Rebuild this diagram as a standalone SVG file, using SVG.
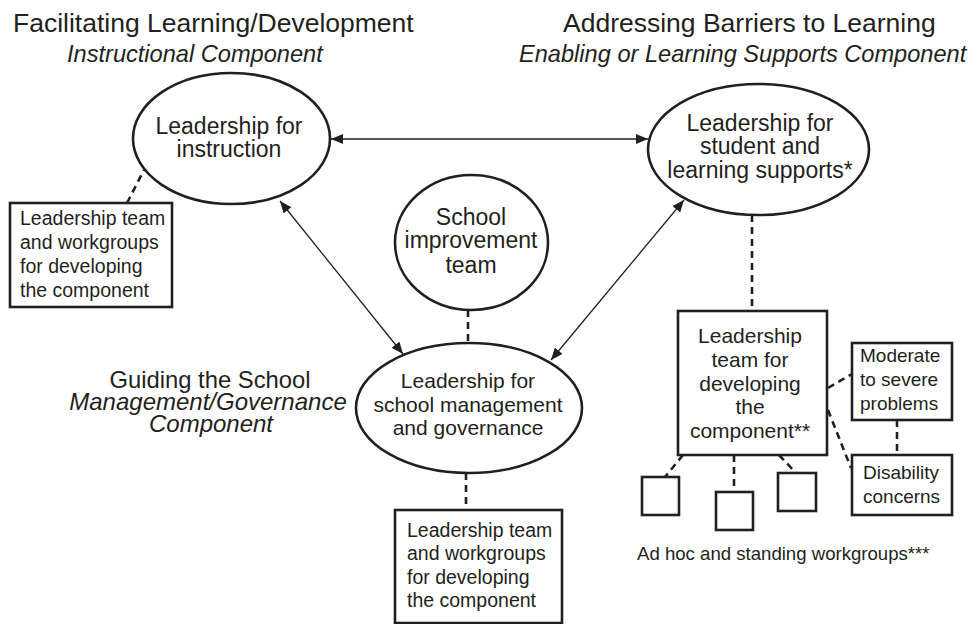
<svg xmlns="http://www.w3.org/2000/svg" width="972" height="624" viewBox="0 0 972 624">
  <defs>
    <style>
      text { font-family: "Liberation Sans", Arial, sans-serif; fill: #231f20; }
      .title { font-size: 26.5px; }
      .sub { font-size: 23.6px; font-style: italic; }
      .node { font-size: 23px; text-anchor: middle; }
      .mgmt { font-size: 21px; text-anchor: middle; }
      .box { font-size: 19.5px; }
      .small { font-size: 19px; }
      .shape { fill: #ffffff; stroke: #231f20; stroke-width: 2.6; }
      .dash { fill: none; stroke: #231f20; stroke-width: 2.6; stroke-dasharray: 7 5; }
      .arrow { fill: none; stroke: #231f20; stroke-width: 1.3; marker-start: url(#head); marker-end: url(#head); }
    </style>
    <marker id="head" viewBox="0 0 12 10" refX="12" refY="5" markerWidth="12" markerHeight="10" markerUnits="userSpaceOnUse" orient="auto-start-reverse">
      <path d="M0,0 L12,5 L0,10 Z" fill="#231f20"/>
    </marker>
  </defs>

  <rect width="972" height="624" fill="#ffffff"/>

  <!-- component headings -->
  <g id="heading-instructional">
    <text class="title" x="13" y="32">Facilitating Learning/Development</text>
    <text class="sub" x="67" y="62">Instructional Component</text>
  </g>
  <g id="heading-enabling">
    <text class="title" x="563" y="32">Addressing Barriers to Learning</text>
    <text class="sub" x="519" y="62">Enabling or Learning Supports Component</text>
  </g>
  <g id="heading-management">
    <text x="210" y="388" style="font-size:23.8px;text-anchor:middle">Guiding the School</text>
    <text x="208" y="410" style="font-size:24px;font-style:italic;text-anchor:middle">Management/Governance</text>
    <text x="211" y="432" style="font-size:24px;font-style:italic;text-anchor:middle">Component</text>
  </g>

  <!-- connectors -->
  <g id="connectors">
    <line class="arrow" x1="331" y1="139" x2="648" y2="139"/>
    <line class="arrow" x1="280" y1="201" x2="403" y2="354"/>
    <line class="arrow" x1="684" y1="200" x2="551" y2="360"/>
    <line class="dash" x1="127" y1="203" x2="144" y2="170"/>
    <line class="dash" x1="468" y1="310" x2="468" y2="343"/>
    <line class="dash" x1="466" y1="473" x2="466" y2="510"/>
    <line class="dash" x1="752" y1="215" x2="752" y2="311"/>
    <line class="dash" x1="828" y1="388" x2="852" y2="374"/>
    <line class="dash" x1="828" y1="410" x2="851" y2="468"/>
    <line class="dash" x1="897" y1="420" x2="897" y2="455"/>
    <line class="dash" x1="683" y1="455" x2="665" y2="477"/>
    <line class="dash" x1="734" y1="455" x2="734" y2="492"/>
    <line class="dash" x1="779" y1="455" x2="796" y2="473"/>
  </g>

  <!-- leadership nodes -->
  <g id="instruction">
    <ellipse class="shape" cx="231.5" cy="138.5" rx="98.5" ry="65.5"/>
    <text class="node" x="229" y="134">Leadership for</text>
    <text class="node" x="229" y="157">instruction</text>
  </g>

  <g id="learning-supports">
    <ellipse class="shape" cx="758.5" cy="149.5" rx="110.5" ry="65.5"/>
    <text class="node" x="760" y="131">Leadership for</text>
    <text class="node" x="760" y="154">student and</text>
    <text class="node" x="760" y="178">learning supports*</text>
  </g>

  <g id="school-improvement">
    <ellipse class="shape" cx="471.5" cy="242.5" rx="76.5" ry="67.5"/>
    <text class="node" x="471" y="225">School</text>
    <text class="node" x="471" y="248">improvement</text>
    <text class="node" x="471" y="273">team</text>
  </g>

  <g id="management">
    <ellipse class="shape" cx="469" cy="408" rx="113" ry="65"/>
    <text class="mgmt" x="468" y="388">Leadership for</text>
    <text class="mgmt" x="468" y="412">school management</text>
    <text class="mgmt" x="468" y="435">and governance</text>
  </g>

  <!-- workgroup boxes -->
  <g id="instruction-team">
    <rect class="shape" x="10" y="203" width="162" height="104"/>
    <text class="box" x="20" y="225">Leadership team</text>
    <text class="box" x="20" y="249">and workgroups</text>
    <text class="box" x="20" y="273">for developing</text>
    <text class="box" x="20" y="297">the component</text>
  </g>

  <g id="management-team">
    <rect class="shape" x="395" y="510" width="167" height="113"/>
    <text class="box" x="407" y="537">Leadership team</text>
    <text class="box" x="407" y="560">and workgroups</text>
    <text class="box" x="407" y="584">for developing</text>
    <text class="box" x="407" y="607">the component</text>
  </g>

  <g id="supports-team">
    <rect class="shape" x="678" y="311" width="149" height="144"/>
    <text class="mgmt" x="750" y="343">Leadership</text>
    <text class="mgmt" x="750" y="367">team for</text>
    <text class="mgmt" x="750" y="391">developing</text>
    <text class="mgmt" x="750" y="414">the</text>
    <text class="mgmt" x="750" y="438">component**</text>
  </g>

  <g id="moderate-severe">
    <rect class="shape" x="852" y="343" width="100" height="77"/>
    <text class="small" x="860" y="362">Moderate</text>
    <text class="small" x="860" y="386">to severe</text>
    <text class="small" x="860" y="410">problems</text>
  </g>

  <g id="disability">
    <rect class="shape" x="852" y="455" width="100" height="60"/>
    <text class="small" x="863" y="479">Disability</text>
    <text class="small" x="863" y="503">concerns</text>
  </g>

  <g id="workgroup-1">
    <rect class="shape" x="642" y="477" width="37" height="38"/>
  </g>
  <g id="workgroup-2">
    <rect class="shape" x="716" y="492" width="37" height="38"/>
  </g>
  <g id="workgroup-3">
    <rect class="shape" x="778" y="473" width="38" height="38"/>
  </g>

  <g id="workgroups-label">
    <text x="637" y="560" style="font-size:18.6px">Ad hoc and standing workgroups***</text>
  </g>
</svg>
